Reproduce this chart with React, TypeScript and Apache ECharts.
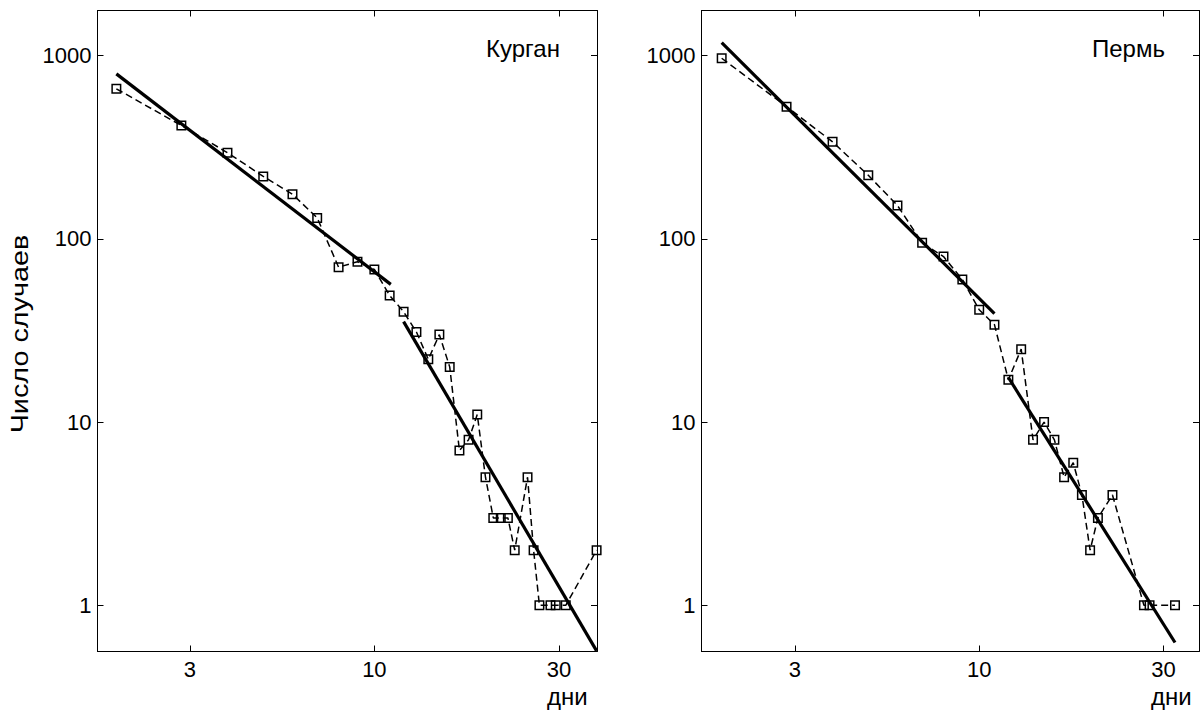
import React, { useEffect, useRef } from 'react';
import * as echarts from 'echarts';

// Курган: days and case counts
const kurganDays = [2, 3, 4, 5, 6, 7, 8, 9, 10, 11, 12, 13, 14, 15, 16, 17, 18, 19, 20, 21, 22, 23, 24, 26, 27, 28, 30, 31, 33, 40];
const kurganCases = [658, 415, 295, 219, 175, 130, 70, 75, 68, 49, 40, 31, 22, 30, 20, 7, 8, 11, 5, 3, 3, 3, 2, 5, 2, 1, 1, 1, 1, 2];
const kurganFit1 = [[2, 794], [11.08, 56.4]];
const kurganFit2 = [[12, 35.3], [40, 0.564]];

// Пермь: days and case counts
const permDays = [2, 3, 4, 5, 6, 7, 8, 9, 10, 11, 12, 13, 14, 15, 16, 17, 18, 19, 20, 21, 23, 28, 29, 34];
const permCases = [966, 526, 338, 222, 152, 95, 80, 60, 41, 34, 17, 25, 8, 10, 8, 5, 6, 4, 2, 3, 4, 1, 1, 1];
const permFit1 = [[2, 1175], [11, 39.1]];
const permFit2 = [[12, 17.5], [34, 0.627]];

// tick labels
const xTickValues = [3.1623, 10, 31.623];
const xTickLabels = ['3', '10', '30'];
const yTickValues = [1, 10, 100, 1000];
const yTickLabels = ['1', '10', '100', '1000'];

const FONT = '"Liberation Sans", Arial, Helvetica, sans-serif';

function labelFor(values: number[], labels: string[]) {
  return (v: number) => {
    for (let i = 0; i < values.length; i++) {
      if (Math.abs(Math.log10(v) - Math.log10(values[i])) < 0.01) return labels[i];
    }
    return '';
  };
}

function xAxisDef(gridIndex: number, min: number, max: number, bottom: boolean) {
  return {
    type: 'log',
    logBase: Math.sqrt(10),
    gridIndex,
    min,
    max,
    position: bottom ? 'bottom' : 'top',
    axisLine: { show: true, onZero: false, lineStyle: { color: '#000', width: 1 } },
    axisTick: { show: true, inside: true, length: 6, lineStyle: { color: '#000', width: 1 } },
    axisLabel: {
      show: bottom,
      formatter: labelFor(xTickValues, xTickLabels),
      color: '#000',
      fontSize: 22,
      fontFamily: FONT,
      margin: 7,
      showMinLabel: false,
      showMaxLabel: false,
    },
    splitLine: { show: false },
    minorTick: { show: false },
  };
}

function yAxisDef(gridIndex: number, min: number, max: number, left: boolean) {
  return {
    type: 'log',
    logBase: 10,
    gridIndex,
    min,
    max,
    position: left ? 'left' : 'right',
    axisLine: { show: true, onZero: false, lineStyle: { color: '#000', width: 1 } },
    axisTick: { show: true, inside: true, length: 6, lineStyle: { color: '#000', width: 1 } },
    axisLabel: {
      show: left,
      formatter: labelFor(yTickValues, yTickLabels),
      color: '#000',
      fontSize: 22,
      fontFamily: FONT,
      margin: 6,
      showMinLabel: false,
      showMaxLabel: false,
    },
    splitLine: { show: false },
    minorTick: { show: false },
  };
}

function dataSeries(xi: number, days: number[], cases: number[]) {
  return {
    type: 'line',
    xAxisIndex: xi,
    yAxisIndex: xi,
    data: days.map((d, i) => [d, cases[i]]),
    symbol: 'rect',
    symbolSize: 8.5,
    showAllSymbol: true,
    lineStyle: { color: '#000', width: 1.5, type: [7, 4] },
    itemStyle: { color: 'rgba(255,255,255,0)', borderColor: '#000', borderWidth: 1.5 },
    z: 2,
    silent: true,
  };
}

function fitSeries(xi: number, pts: number[][]) {
  return {
    type: 'line',
    xAxisIndex: xi,
    yAxisIndex: xi,
    data: pts,
    symbol: 'none',
    lineStyle: { color: '#000', width: 3.2 },
    z: 3,
    silent: true,
  };
}

export default function App() {
  const ref = useRef<HTMLDivElement>(null);
  useEffect(() => {
    if (!ref.current) return;
    const chart = echarts.init(ref.current, null, { renderer: 'svg' });
    const yMin = 0.56;
    const yMax = 1760;
    const titleFont = '24px ' + FONT;
    chart.setOption({
      animation: false,
      backgroundColor: '#fff',
      grid: [
        { left: 97.5, top: 10.5, width: 499.5, height: 641, containLabel: false, outerBoundsMode: 'none' },
        { left: 701.5, top: 10.5, width: 497.5, height: 641, containLabel: false, outerBoundsMode: 'none' },
      ],
      xAxis: [
        xAxisDef(0, 1.778, 40.1, true),
        xAxisDef(0, 1.778, 40.1, false),
        xAxisDef(1, 1.763, 39.5, true),
        xAxisDef(1, 1.763, 39.5, false),
      ],
      yAxis: [
        yAxisDef(0, yMin, yMax, true),
        yAxisDef(0, yMin, yMax, false),
        yAxisDef(1, yMin, yMax, true),
        yAxisDef(1, yMin, yMax, false),
      ],
      series: [
        dataSeries(0, kurganDays, kurganCases),
        fitSeries(0, kurganFit1),
        fitSeries(0, kurganFit2),
        dataSeries(2, permDays, permCases),
        fitSeries(2, permFit1),
        fitSeries(2, permFit2),
      ],
      graphic: [
        { type: 'text', x: 486, y: 48, style: { text: 'Курган', font: titleFont, fill: '#000', align: 'left', verticalAlign: 'middle' } },
        { type: 'text', x: 1092, y: 48, style: { text: 'Пермь', font: titleFont, fill: '#000', align: 'left', verticalAlign: 'middle' } },
        { type: 'text', x: 547, y: 696, style: { text: 'дни', font: titleFont, fill: '#000', align: 'left', verticalAlign: 'middle' } },
        { type: 'text', x: 1151, y: 696, style: { text: 'дни', font: titleFont, fill: '#000', align: 'left', verticalAlign: 'middle' } },
        {
          type: 'text',
          x: 20,
          y: 334,
          rotation: Math.PI / 2,
          scaleX: 1.2,
          style: { text: 'Число случаев', font: titleFont, fill: '#000', align: 'center', verticalAlign: 'middle' },
        },
      ],
    });
    return () => chart.dispose();
  }, []);
  return (
    <div
      ref={ref}
      style={{ position: 'absolute', left: 0, top: 0, width: 1202, height: 714, background: '#fff' }}
    />
  );
}
